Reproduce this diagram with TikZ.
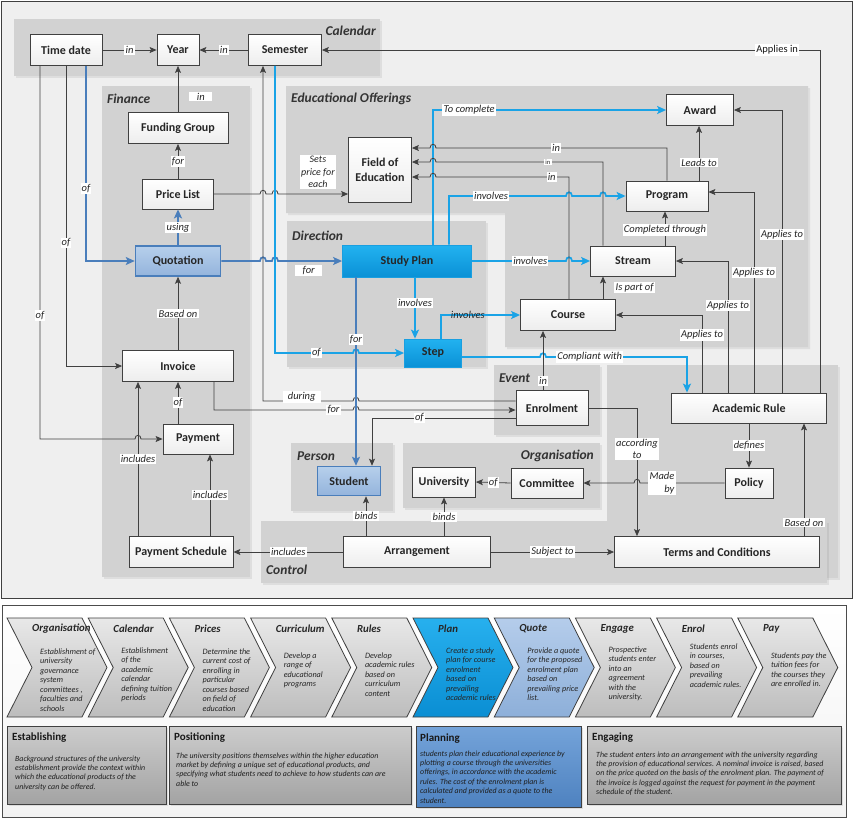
\documentclass[tikz,border=0pt]{standalone}
\usepackage{fontspec}
\setmainfont{Carlito}
\usetikzlibrary{arrows.meta,shadows,calc}
\definecolor{steel}{HTML}{4A7EBB}
\definecolor{bright}{HTML}{1AA3E6}
\definecolor{lines}{HTML}{404040}
\definecolor{grp}{HTML}{D2D2D2}
\definecolor{bgr}{HTML}{EFEFEF}
\definecolor{qA}{HTML}{B6CFEB}
\definecolor{qB}{HTML}{94B4DC}
\definecolor{sD}{HTML}{1A9FE0}
\definecolor{sA}{HTML}{22B2F0}
\definecolor{sB}{HTML}{0A91D6}
\definecolor{bsA}{HTML}{27B0EE}
\definecolor{bsB}{HTML}{0A8ED3}
\definecolor{qsA}{HTML}{B5CDEB}
\definecolor{qsB}{HTML}{8DAFD9}
\definecolor{plA}{HTML}{74A3D9}
\definecolor{plB}{HTML}{4E82C0}
\newcommand\mychev[5]{%
  \pgfmathsetmacro\chvL{7+81.2*#1}%
  \draw[#2] (\chvL,618) -- (\chvL+75,618) -- (\chvL+100,667.5) -- (\chvL+75,717) -- (\chvL,717) -- (\chvL+25,667.5) -- cycle;
  \node[chevtitle, anchor=west] (cht#1) at (\chvL+25,629) {#3};
  \node[chevbody, anchor=north west] (chb#1) at (\chvL+33,#5) {#4};
}
\begin{document}
\begin{tikzpicture}[x=1pt,y=-1pt,
  sz/.style 2 args={minimum width=#1pt,minimum height=#2pt},
  ent/.style={draw=lines, line width=0.8pt, top color=white, bottom color=black!7,
    font=\bfseries\fontsize{12}{15}\selectfont, align=center, inner sep=1pt, text=black!85},
  entq/.style={ent, draw=steel, line width=1.5pt, top color=qA, bottom color=qB},
  ents/.style={ent, draw=sD, line width=0.8pt, top color=sA, bottom color=sB},
  conn/.style={draw=lines, line width=0.8pt, -{Stealth[length=7pt,width=6pt,inset=1.5pt]}},
  sconn/.style={draw=steel, line width=1.7pt, -{Stealth[length=9pt,width=8pt,inset=2pt]}},
  bconn/.style={draw=bright, line width=1.7pt, -{Stealth[length=9pt,width=8pt,inset=2pt]}},
  lab/.style={fill=white, inner sep=1.2pt, font=\itshape\fontsize{10.5}{12.5}\selectfont, text=black!85},
  labup/.style={fill=white, inner sep=1.2pt, font=\fontsize{10.5}{12.5}\selectfont, text=black!90},
  grpfill/.style={fill=grp, drop shadow={shadow xshift=2pt, shadow yshift=-2pt, opacity=0.15}},
  grpl/.style={font=\bfseries\itshape\fontsize{13.5}{15}\selectfont, text=black!80, inner sep=0pt},
  gchev/.style={draw=black!75, line width=0.8pt, top color=black!9, bottom color=black!26},
  pchev/.style={draw=black!75, line width=0.8pt, top color=bsA, bottom color=bsB},
  qchev/.style={draw=black!75, line width=0.8pt, top color=qsA, bottom color=qsB},
  chevtitle/.style={font=\bfseries\itshape\fontsize{10.8}{12}\selectfont, text=black!85, inner sep=0pt},
  chevbody/.style={font=\itshape\fontsize{8.2}{9.5}\selectfont, align=left, inner sep=0pt, text=black!85},
  bgray/.style={draw=black!75, line width=1pt, top color=black!20, bottom color=black!36,
    drop shadow={shadow xshift=1.5pt, shadow yshift=-1.5pt, opacity=0.2}},
  bblue/.style={draw=black!75, line width=1pt, top color=plA, bottom color=plB,
    drop shadow={shadow xshift=1.5pt, shadow yshift=-1.5pt, opacity=0.2}},
  btitle/.style={font=\bfseries\fontsize{11}{12}\selectfont, text=black!90, inner sep=0pt, anchor=west},
  bbody/.style={font=\itshape\fontsize{7.9}{9.4}\selectfont, align=left, inner sep=0pt, text=black!88, anchor=north west}
]
\useasboundingbox (0,0) rectangle (854,820);
\fill[white] (0,0) rectangle (854,820);
% frames
\draw[draw=black!75, fill=bgr, line width=0.8pt] (1,1) rectangle (852,598);
\draw[draw=black!70, line width=0.8pt, top color=white, bottom color=black!5] (2,605) rectangle (846,817);
% groups
\fill[grpfill] (14,19) rectangle (380,76);
\fill[grpfill] (102,86) rectangle (250,577);
\fill[grpfill] (286,86) -- (808,86) -- (808,347) -- (505,347) -- (505,213) -- (286,213) -- cycle;
\fill[grpfill] (287,221) rectangle (486,367);
\fill[grpfill] (494,365) rectangle (600,435);
\fill[grpfill] (607,365) rectangle (838,578);
\fill[grpfill] (261,521) rectangle (827,583);
\fill[grpfill] (291,443) rectangle (393,511);
\fill[grpfill] (403,443) rectangle (600,508);
\node[grpl, anchor=east] (gCal) at (376,31) {Calendar};
\node[grpl, anchor=west] (gFin) at (107,99) {Finance};
\node[grpl, anchor=west] (gEO) at (291,99) {Educational Offerings};
\node[grpl, anchor=west] (gDir) at (292,236) {Direction};
\node[grpl, anchor=west] (gEv) at (499,378) {Event};
\node[grpl, anchor=west] (gPer) at (297,456) {Person};
\node[grpl, anchor=east] (gOrg) at (594,456) {Organisation};
\node[grpl, anchor=west] (gCon) at (266,570) {Control};
% entities
\node[ent, sz={72}{31}] (td) at (66,50) {Time date};
\node[ent, sz={42}{31}] (yr) at (178,50) {Year};
\node[ent, sz={73}{31}] (sem) at (285,50) {Semester};
\node[ent, sz={100}{31}] (fg) at (178,128) {Funding Group};
\node[ent, sz={71}{30}] (pl) at (178,194) {Price List};
\node[entq, sz={85}{30}] (quo) at (178,261) {Quotation};
\node[ent, sz={111}{31}] (inv) at (178,366) {Invoice};
\node[ent, sz={70}{30}] (pay) at (198,439) {Payment};
\node[ent, sz={104}{31}] (ps) at (181,552) {Payment Schedule};
\node[ent, sz={63}{65}] (foe) at (380,170) {Field of\\Education};
\node[ent, sz={67}{31}] (awd) at (700,110) {Award};
\node[ent, sz={82}{30}] (prog) at (667,196) {Program};
\node[ent, sz={85}{30}] (strm) at (633,261) {Stream};
\node[ent, sz={95}{31}] (crs) at (568,315) {Course};
\node[ents, sz={129}{32}] (sp) at (407,261) {Study Plan};
\node[ents, sz={57}{28}] (step) at (433,353) {Step};
\node[ent, sz={72}{35}] (enr) at (552,408) {Enrolment};
\node[ent, sz={155}{30}] (ar) at (749,408) {Academic Rule};
\node[entq, sz={63}{29}] (stu) at (349,481) {Student};
\node[ent, sz={63}{30}] (uni) at (444,482) {University};
\node[ent, sz={72}{30}] (com) at (547,483) {Committee};
\node[ent, sz={48}{30}] (pol) at (749,483) {Policy};
\node[ent, sz={147}{31}] (arr) at (417,552) {Arrangement};
\node[ent, sz={205}{31}] (tc) at (717,552) {Terms and Conditions};
% connectors
\draw[conn] (td.east) -- node[lab]{in} (yr.west);
\draw[conn] (sem.west) -- node[lab]{in} (yr.east);
\draw[conn] (820,0 |- ar.north) -- (820,50) -- node[labup,pos=0.086]{Applies in} (sem.east);
\draw[conn] (fg.north) -- node[lab,pos=0.34,right=11pt,minimum width=23pt]{in} (yr.south);
\draw[conn] (pl.north) -- node[lab]{for} (fg.south);
\draw[sconn] (quo.north) -- node[lab]{using} (pl.south);
\draw[conn] (inv.north) -- node[lab]{Based on} (quo.south);
\draw[conn] (inv.south |- pay.north) -- node[lab]{of} (inv.south);
\draw[conn] (138,0 |- ps.north) -- node[lab]{includes} (138,0 |- inv.south);
\draw[conn] (210,0 |- ps.north) -- node[lab]{includes} (210,0 |- pay.south);
\draw[conn] (40,0 |- td.south) -- node[lab,pos=0.67]{of} (40,439) -- (135,439) .. controls (135,434) and (141,434) .. (141,439) -- (pay.west);
\draw[conn] (66,0 |- td.south) -- node[lab,pos=0.59]{of} (66,0 |- inv.west) -- (inv.west);
\draw[sconn] (86,0 |- td.south) -- node[lab,pos=0.63]{of} (86,0 |- quo.west) -- (quo.west);
\draw[conn] (pl.east) -- (260,194) .. controls (260,189) and (266,189) .. (266,194) -- (272,194) .. controls (272,189) and (278,189) .. (278,194) -- node[lab,pos=0.57,above=5pt,align=center,font=\itshape\fontsize{10}{12.3}\selectfont]{Sets\\price for\\each} (foe.west |- 0,194);
\draw[sconn] (quo.east) -- (260,261) .. controls (260,256) and (266,256) .. (266,261) -- (272,261) .. controls (272,256) and (278,256) .. (278,261) -- node[lab,pos=0.48,below=3pt,minimum width=27pt]{for} (sp.west);
\draw[bconn] (275,0 |- sem.south) -- (275,353) -- node[lab,pos=0.53]{of} (353,353) .. controls (353,348) and (359,348) .. (359,353) -- (step.west);
\draw[conn] (enr.west |- 0,401) -- (359,401) .. controls (359,396) and (353,396) .. (353,401) -- node[lab,pos=0.57,yshift=4pt,minimum width=38pt]{during} (263,401) -- (263,0 |- sem.south);
\draw[conn] (214,0 |- inv.south) -- (214,410) -- node[lab,pos=0.86]{for} (353,410) .. controls (353,405) and (359,405) .. (359,410) -- (enr.west |- 0,410);
\draw[conn] (enr.west |- 0,418) -- node[lab,pos=0.67]{of} (372,418) -- (372,0 |- stu.north);
\draw[sconn] (356,0 |- sp.south) -- node[lab,pos=0.33]{for} (356,0 |- stu.north);
\draw[bconn] (415,0 |- sp.south) -- node[lab,pos=0.42]{involves} (415,0 |- step.north);
\draw[bconn] (441,0 |- step.north) -- (441,315) -- node[lab,fill=none,pos=0.34]{involves} (crs.west);
\draw[bconn] (step.east |- 0,357) -- (540,357) .. controls (540,352) and (546,352) .. (546,357) -- node[lab,pos=0.31]{Compliant with} (687,357) -- (687,0 |- ar.north);
\draw[conn] (543,0 |- enr.north) -- node[lab,pos=0.15]{in} (543,0 |- crs.south);
\draw[bconn] (433,0 |- sp.north) -- (433,110) -- node[lab,pos=0.155]{To complete} (awd.west);
\draw[bconn] (449,0 |- sp.north) -- (449,196) -- node[lab,pos=0.36]{involves} (566,196) .. controls (566,191) and (572,191) .. (572,196) -- (600,196) .. controls (600,191) and (606,191) .. (606,196) -- (prog.west);
\draw[bconn] (sp.east) -- node[lab,pos=0.62]{involves} (566,261) .. controls (566,256) and (572,256) .. (572,261) -- (strm.west);
\draw[conn] (667,0 |- prog.north) -- (667,148) -- node[lab,pos=0.48]{in} (436,148) .. controls (436,143) and (430,143) .. (430,148) -- (foe.east |- 0,148);
\draw[conn] (603,0 |- strm.north) -- (603,162) -- node[lab,pos=0.33,font=\fontsize{6.5}{8}\selectfont]{in} (436,162) .. controls (436,157) and (430,157) .. (430,162) -- (foe.east |- 0,162);
\draw[conn] (569,0 |- crs.north) -- (569,177) -- node[lab,pos=0.13]{in} (436,177) .. controls (436,172) and (430,172) .. (430,177) -- (foe.east |- 0,177);
\draw[conn] (699,0 |- prog.north) -- node[lab,pos=0.33]{Leads to} (699,0 |- awd.south);
\draw[conn] (665,0 |- strm.north) -- node[lab,pos=0.46]{Completed through} (665,0 |- prog.south);
\draw[conn] (603,0 |- crs.north) -- node[lab,right=11pt]{Is part of} (603,0 |- strm.south);
\draw[conn] (702,0 |- ar.north) -- node[lab,pos=0.74]{Applies to} (702,0 |- crs.east) -- (crs.east);
\draw[conn] (728,0 |- ar.north) -- node[lab,pos=0.66]{Applies to} (728,0 |- strm.east) -- (strm.east);
\draw[conn] (754,0 |- ar.north) -- node[lab,pos=0.6]{Applies to} (754,192) -- (prog.east |- 0,192);
\draw[conn] (782,0 |- ar.north) -- node[lab,pos=0.56]{Applies to} (782,0 |- awd.east) -- (awd.east);
\draw[conn] (ar.south) -- node[lab]{defines} (pol.north);
\draw[conn] (pol.west) -- node[lab,pos=0.74,align=right]{Made\\by} (640,483) .. controls (640,478) and (634,478) .. (634,483) -- (com.east);
\draw[conn] (com.west) -- node[lab]{of} (uni.east);
\draw[conn] (enr.east) -- (637,0 |- enr.east) -- node[lab,pos=0.32,align=center]{according\\to} (637,0 |- tc.north);
\draw[conn] (arr.west) -- node[lab]{includes} (ps.east);
\draw[conn] (366,0 |- arr.north) -- node[lab]{binds} (366,0 |- stu.south);
\draw[conn] (uni.south |- arr.north) -- node[lab]{binds} (uni.south);
\draw[conn] (arr.east) -- node[lab]{Subject to} (tc.west);
\draw[conn] (804,0 |- tc.north) -- node[lab,pos=0.12]{Based on} (804,0 |- ar.south);
% chevrons
\mychev{0}{gchev}{Organisation}{Establishment of\\university\\governance\\system\\committees ,\\faculties and\\schools}{648.5}
\mychev{1}{gchev}{Calendar}{Establishment\\of the\\academic\\calendar\\defining tuition\\periods}{647.5}
\mychev{2}{gchev}{Prices}{Determine the\\current cost of\\enrolling in\\particular\\courses based\\on field of\\education}{648.5}
\mychev{3}{gchev}{Curriculum}{Develop a\\range of\\educational\\programs}{652.5}
\mychev{4}{gchev}{Rules}{Develop\\academic rules\\based on\\curriculum\\content}{652.5}
\mychev{5}{pchev}{Plan}{Create a study\\plan for course\\enrolment\\based on\\prevailing\\academic rules}{647.5}
\mychev{6}{qchev}{Quote}{Provide a quote\\for the proposed\\enrolment plan\\based on\\prevailing price\\list.}{647.5}
\mychev{7}{gchev}{Engage}{Prospective\\students enter\\into an\\agreement\\with the\\university.}{646.5}
\mychev{8}{gchev}{Enrol}{Students enrol\\in courses,\\based on\\prevailing\\academic rules.}{643.5}
\mychev{9}{gchev}{Pay}{Students pay the\\tuition fees for\\the courses they\\are enrolled in.}{652.5}
% phase boxes
\draw[bgray] (7,726) rectangle (166,804);
\node[btitle] (tEst) at (12,738) {Establishing};
\node[bbody] (bEst) at (15,755.5) {Background structures of the university\\establishment provide the context within\\which the educational products of the\\university can be offered.};
\draw[bgray] (169,726) rectangle (411,804);
\node[btitle] (tPos) at (174,738) {Positioning};
\node[bbody] (bPos) at (176,752.5) {The university positions themselves within the higher education\\market by defining a unique set of educational products, and\\specifying what students need to achieve to how students can are\\able to};
\draw[bblue] (416,726) rectangle (581,807);
\node[btitle] (tPla) at (420,739) {Planning};
\node[bbody] (bPla) at (420,750.5) {students plan their educational experience by\\plotting a course through the universities\\offerings, in accordance with the academic\\rules. The cost of the enrolment plan is\\calculated and provided as a quote to the\\student.};
\draw[bgray] (587,726) rectangle (841,804);
\node[btitle] (tEng) at (592,738) {Engaging};
\node[bbody] (bEng) at (596,751.5) {The student enters into an arrangement with the university regarding\\the provision of educational services. A nominal invoice is raised, based\\on the price quoted on the basis of the enrolment plan. The payment of\\the invoice is logged against the request for payment in the payment\\schedule of the student.};
\end{tikzpicture}
\end{document}
